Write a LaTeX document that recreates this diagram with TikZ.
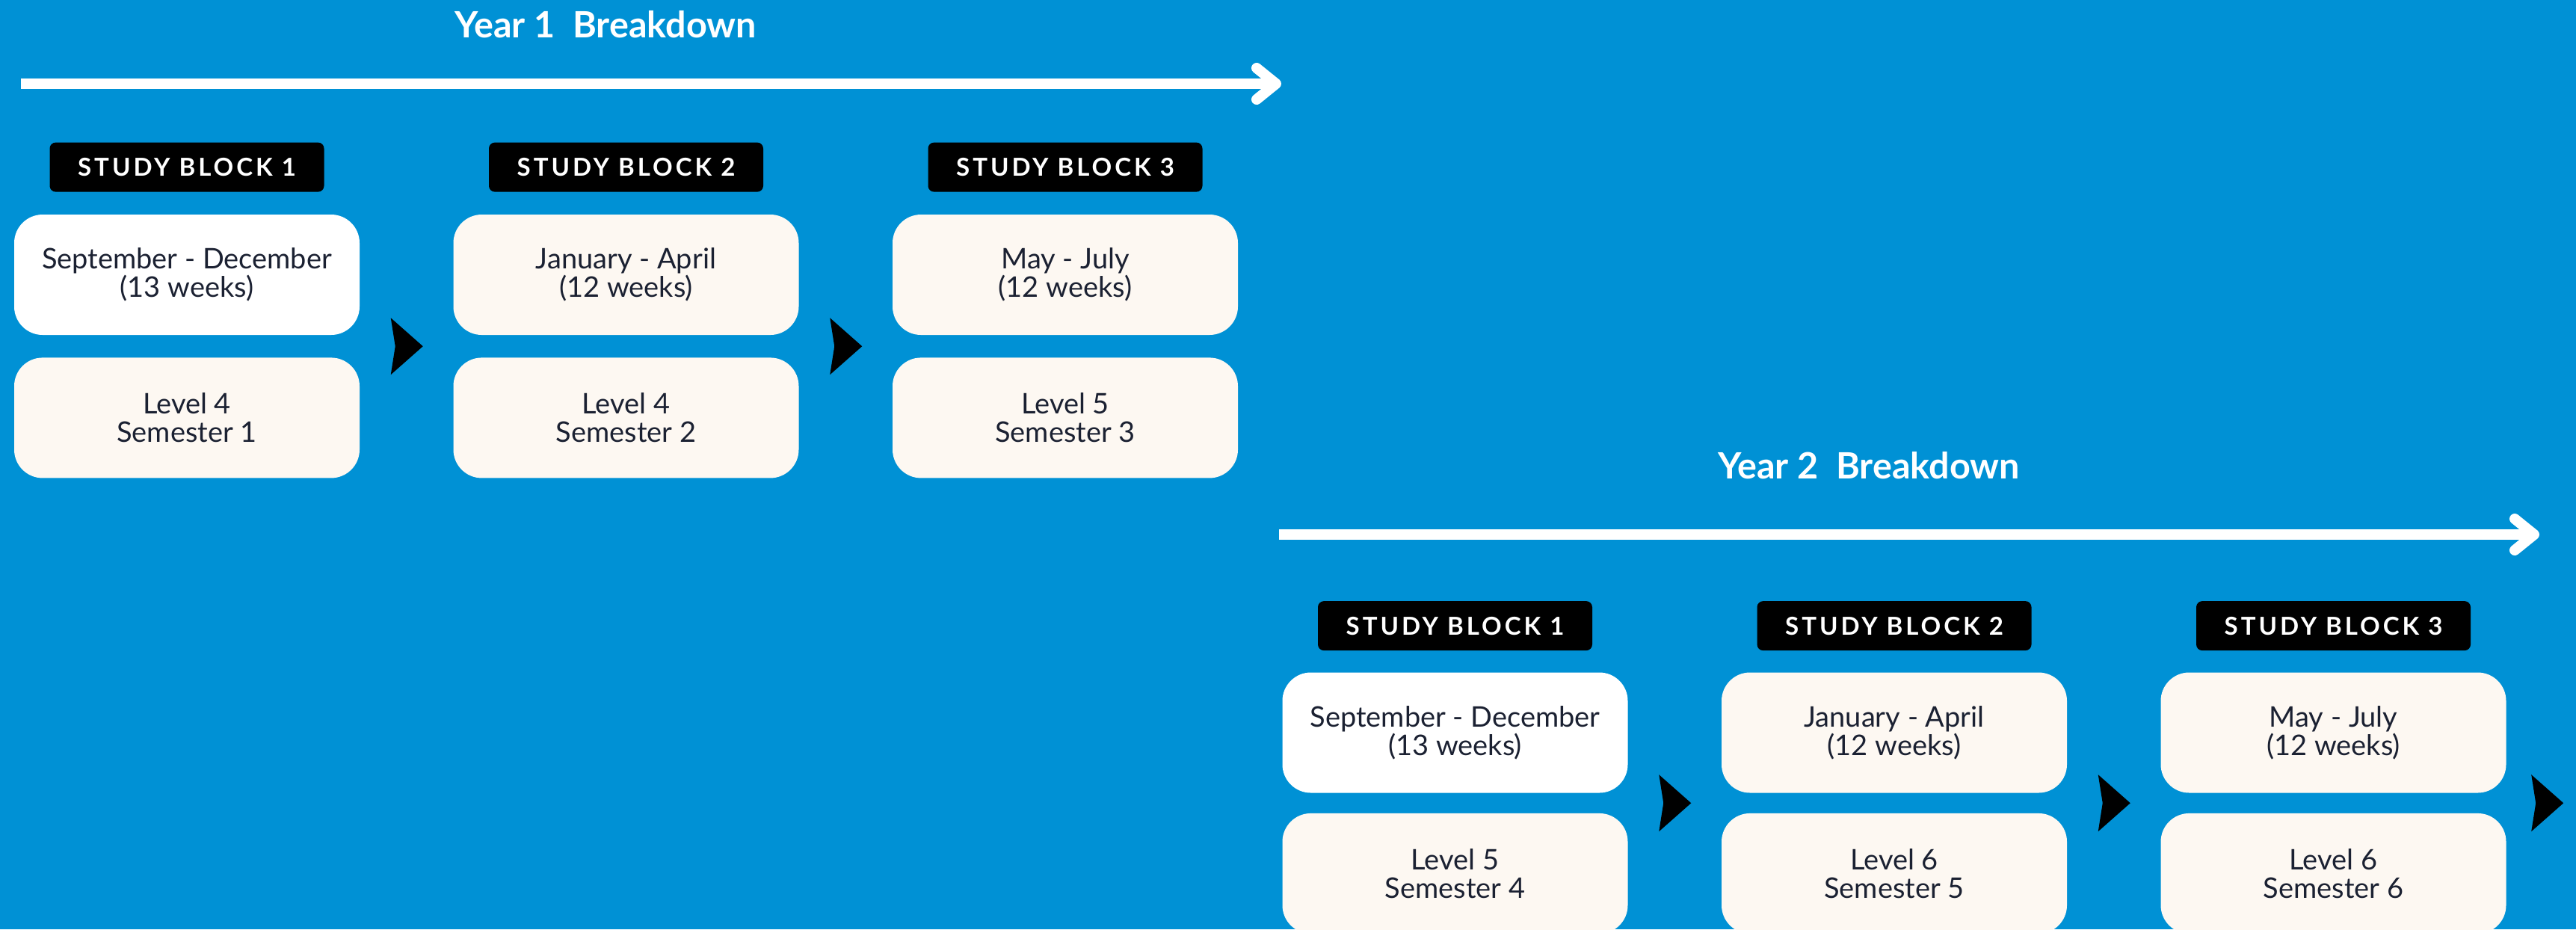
\documentclass[tikz,border=0pt]{standalone}
\usepackage{fontspec}
\setmainfont{Lato}
\newfontfamily\blockfont{Lato}[LetterSpace=12]
\usetikzlibrary{arrows.meta,calc,positioning}

\definecolor{bgblue}{HTML}{0091D5}
\definecolor{cream}{HTML}{FDF8F2}
\definecolor{ink}{HTML}{1B2132}

\begin{document}
\begin{tikzpicture}[
    title/.style={text=white, font=\bfseries\fontsize{13.8}{15}\selectfont},
    timeline/.style={white, line width=0.14cm,
        -{Straight Barb[round, length=0.26cm, width=0.42cm]}},
    hdr/.style={fill=black, text=white, rounded corners=0.08cm,
        minimum width=3.67cm, minimum height=0.66cm, inner sep=0pt,
        font=\blockfont\bfseries\fontsize{9.4}{10}\selectfont},
    card/.style={fill=cream, text=ink, rounded corners=0.38cm,
        minimum width=4.62cm, minimum height=1.61cm, align=center,
        font=\fontsize{10.8}{10.9}\selectfont},
    chev/.pic={\fill[black, line join=round]
        (-0.21,0.38) -- (0.22,0) -- (-0.21,-0.38) -- (-0.15,0) -- cycle;}
]
    \fill[bgblue] (0,0) rectangle (34.46,-12.43);
    \useasboundingbox (0,0) rectangle (34.46,-12.43);

    % year 1
    \node[title] (yr1) at (8.10,-0.33) {Year 1~~Breakdown};
    \coordinate (t1s) at (0.28,-1.12);
    \coordinate (t1e) at (17.14,-1.12);
    \draw[timeline] (t1s) -- (t1e);

    \node[card, fill=white] (mon11) at (2.50,-3.675)
        {September - December\\(13 weeks)};
    \node[hdr, above=0.29cm of mon11] (blk11) {STUDY BLOCK 1};
    \node[card, below=0.29cm of mon11] (lvl11) {Level 4\\Semester 1};

    \node[card] (mon12) at (8.375,-3.675) {January - April\\(12 weeks)};
    \node[hdr, above=0.29cm of mon12] (blk12) {STUDY BLOCK 2};
    \node[card, below=0.29cm of mon12] (lvl12) {Level 4\\Semester 2};

    \node[card] (mon13) at (14.25,-3.675) {May - July\\(12 weeks)};
    \node[hdr, above=0.29cm of mon13] (blk13) {STUDY BLOCK 3};
    \node[card, below=0.29cm of mon13] (lvl13) {Level 5\\Semester 3};

    \coordinate (c11) at ($(mon11.south east)!0.5!(lvl12.north west)$);
    \coordinate (c12) at ($(mon12.south east)!0.5!(lvl13.north west)$);
    \pic at (c11) {chev};
    \pic at (c12) {chev};

    % year 2
    \node[title] (yr2) at (25.00,-6.23) {Year 2~~Breakdown};
    \coordinate (t2s) at (17.11,-7.15);
    \coordinate (t2e) at (33.97,-7.15);
    \draw[timeline] (t2s) -- (t2e);

    \node[card, fill=white] (mon21) at (19.465,-9.80)
        {September - December\\(13 weeks)};
    \node[hdr, above=0.28cm of mon21] (blk21) {STUDY BLOCK 1};
    \node[card, below=0.26cm of mon21] (lvl21) {Level 5\\Semester 4};

    \node[card] (mon22) at (25.34,-9.80) {January - April\\(12 weeks)};
    \node[hdr, above=0.28cm of mon22] (blk22) {STUDY BLOCK 2};
    \node[card, below=0.26cm of mon22] (lvl22) {Level 6\\Semester 5};

    \node[card] (mon23) at (31.215,-9.80) {May - July\\(12 weeks)};
    \node[hdr, above=0.28cm of mon23] (blk23) {STUDY BLOCK 3};
    \node[card, below=0.26cm of mon23] (lvl23) {Level 6\\Semester 6};

    \coordinate (c21) at ($(mon21.south east)!0.5!(lvl22.north west)$);
    \coordinate (c22) at ($(mon22.south east)!0.5!(lvl23.north west)$);
    \coordinate (c23) at ($(mon23.south east)!0.5!(lvl23.north east)+(0.54,0)$);
    \pic at (c21) {chev};
    \pic at (c22) {chev};
    \pic at (c23) {chev};
\end{tikzpicture}
\end{document}
